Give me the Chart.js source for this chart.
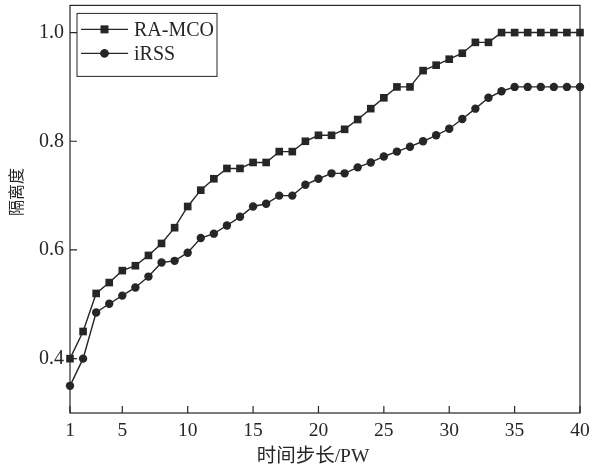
<!DOCTYPE html>
<html>
<head>
<meta charset="utf-8">
<script src="https://cdn.jsdelivr.net/npm/chart.js@4/dist/chart.umd.min.js"></script>
<style>
html,body{margin:0;padding:0;background:#fff;}
#wrap{width:593px;height:469px;}
</style>
</head>
<body>
<div id="wrap"><canvas id="c" width="593" height="469"></canvas></div>
<script>
const steps = Array.from({length: 40}, (_, i) => i + 1);
const raMco = [0.40,0.45,0.52,0.54,0.562,0.571,0.59,0.612,0.641,0.68,
               0.71,0.731,0.75,0.75,0.761,0.761,0.781,0.781,0.80,0.811,
               0.811,0.822,0.84,0.86,0.88,0.90,0.90,0.93,0.94,0.951,
               0.962,0.982,0.982,1.0,1.0,1.0,1.0,1.0,1.0,1.0];
const iRss = [0.35,0.40,0.485,0.501,0.516,0.531,0.551,0.577,0.58,0.595,
              0.622,0.63,0.645,0.661,0.68,0.685,0.70,0.70,0.72,0.731,
              0.741,0.741,0.752,0.761,0.772,0.781,0.79,0.80,0.811,0.823,
              0.841,0.86,0.88,0.892,0.90,0.90,0.90,0.90,0.90,0.90];
const xTicks = [1,5,10,15,20,25,30,35,40];
const yTicks = [0.4,0.6,0.8,1.0];
const seriesNames = ['RA-MCO','iRSS'];
const xTitle = '时间步长/PW';
const yTitle = '隔离度';

const INK = '#262626';
const FONT = '"Liberation Serif","Times New Roman",serif';
const CJK = '"Liberation Serif","Noto Sans CJK SC",serif';

const frame = {
  id: 'frame',
  afterDraw(chart) {
    const {ctx, chartArea: a, scales} = chart;
    ctx.save();
    ctx.strokeStyle = INK;
    ctx.lineWidth = 1.2;
    ctx.strokeRect(a.left, a.top, a.right - a.left, a.bottom - a.top);
    ctx.beginPath();
    scales.x.ticks.forEach(t => {
      const px = scales.x.getPixelForValue(t.value);
      ctx.moveTo(px, a.bottom); ctx.lineTo(px, a.bottom - 7);
    });
    scales.y.ticks.forEach(t => {
      const py = scales.y.getPixelForValue(t.value);
      ctx.moveTo(a.left, py); ctx.lineTo(a.left + 7, py);
    });
    ctx.stroke();
    // axis titles
    ctx.fillStyle = INK;
    ctx.textAlign = 'center';
    ctx.textBaseline = 'middle';
    ctx.font = '19.5px ' + CJK;
    ctx.fillText(xTitle, 313, 457);
    ctx.save();
    ctx.translate(18, 192);
    ctx.rotate(-Math.PI / 2);
    ctx.font = '16px ' + CJK;
    ctx.fillText(yTitle, 0, 0);
    ctx.restore();
    // legend
    const bx = a.left + 7, by = a.top + 8, bw = 140, bh = 63;
    ctx.lineWidth = 1;
    ctx.strokeRect(bx, by, bw, bh);
    ctx.font = '20px ' + FONT;
    ctx.textAlign = 'left';
    ctx.textBaseline = 'middle';
    chart.data.datasets.forEach((ds, i) => {
      const cy = by + 16 + i * 24;
      ctx.beginPath();
      ctx.lineWidth = 1.3;
      ctx.moveTo(bx + 4, cy); ctx.lineTo(bx + 51, cy);
      ctx.stroke();
      Chart.helpers.drawPoint(ctx, {pointStyle: ds.pointStyle, radius: ds.pointRadius, borderWidth: 0}, bx + 27.5, cy);
      ctx.fill();
      ctx.fillText(ds.label, bx + 57, cy + 1);
    });
    ctx.restore();
  }
};

new Chart(document.getElementById('c'), {
  type: 'line',
  data: {
    datasets: [
      {label: seriesNames[0], data: steps.map((s, i) => ({x: s, y: raMco[i]})),
       borderColor: INK, backgroundColor: INK, borderWidth: 1.4,
       pointStyle: 'rect', pointRadius: 5.4, pointBorderWidth: 0, tension: 0},
      {label: seriesNames[1], data: steps.map((s, i) => ({x: s, y: iRss[i]})),
       borderColor: INK, backgroundColor: INK, borderWidth: 1.4,
       pointStyle: 'circle', pointRadius: 4.2, pointBorderWidth: 0, tension: 0}
    ]
  },
  options: {
    responsive: false,
    animation: false,
    clip: false,
    layout: {padding: {top: 5, right: 13, left: 0, bottom: 0}},
    plugins: {legend: {display: false}, tooltip: {enabled: false}},
    scales: {
      x: {
        type: 'linear', min: 1, max: 40,
        afterBuildTicks: s => { s.ticks = xTicks.map(v => ({value: v})); },
        afterFit: s => { s.height = 56; s.paddingLeft = 0; s.paddingRight = 0; },
        grid: {display: false, drawTicks: false},
        border: {display: false},
        ticks: {color: INK, font: {family: FONT, size: 19.5}, padding: 6, maxRotation: 0,
                callback: v => String(v)},
        title: {display: false}
      },
      y: {
        min: 0.3, max: 1.05,
        afterBuildTicks: s => { s.ticks = yTicks.map(v => ({value: v})); },
        afterFit: s => { s.width = 70; s.paddingTop = 0; s.paddingBottom = 0; },
        grid: {display: false, drawTicks: false},
        border: {display: false},
        ticks: {color: INK, font: {family: FONT, size: 20}, padding: 6,
                callback: v => Number(v).toFixed(1)},
        title: {display: false}
      }
    }
  },
  plugins: [frame]
});
</script>
</body>
</html>
